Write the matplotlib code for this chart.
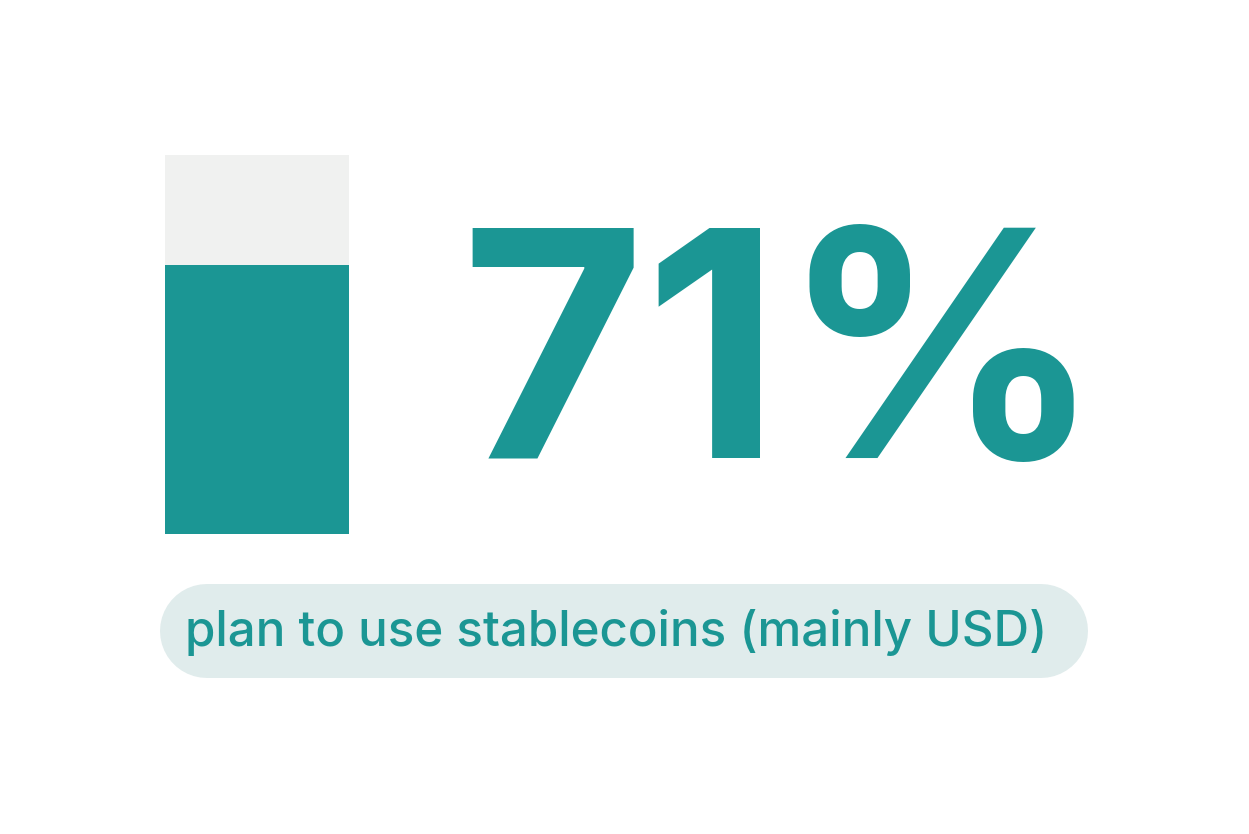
import matplotlib.pyplot as plt

# data
share_pct = [71]
total_pct = [100]
label_text = "plan to use stablecoins (mainly USD)"

TEAL = "#1b9694"
GREY = "#f0f1f0"
PILL = "#e0ecec"

W, H = 1249, 834
fig = plt.figure(figsize=(W / 100, H / 100), dpi=100, facecolor="white")

# background axes in pixel coordinates
ax = fig.add_axes([0, 0, 1, 1])
ax.set_xlim(0, W)
ax.set_ylim(H, 0)
ax.axis('off')

# gauge bar
bx = fig.add_axes([165 / W, 1 - 534 / H, (349 - 165) / W, (534 - 155) / H])
bx.bar([0], total_pct, width=1, color=GREY)
bx.bar([0], share_pct, width=1, color=TEAL)
bx.set_xlim(-0.5, 0.5)
bx.set_ylim(0, 100)
bx.axis('off')

# big number
ax.text(460, 458, f"{share_pct[0]}%", fontsize=228, fontweight='bold',
        family=['Inter', 'DejaVu Sans'], color=TEAL, ha='left', va='baseline')

# pill label: thick line with round caps (94 px tall)
pill_h = 94
ax.plot([160 + pill_h / 2, 1088 - pill_h / 2], [631, 631], color=PILL,
        lw=pill_h * 72 / 100, solid_capstyle='round', zorder=1)
ax.text(185, 646, label_text, fontsize=35.5, fontweight='medium',
        family=['Inter', 'DejaVu Sans'], color=TEAL, ha='left', va='baseline',
        zorder=2)

fig.savefig("out.png", dpi=100, facecolor="white")
